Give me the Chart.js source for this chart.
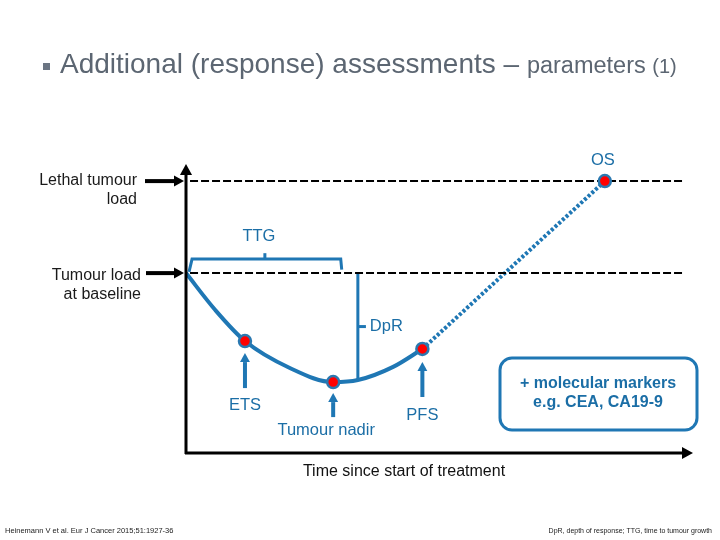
<!DOCTYPE html>
<html>
<head>
<meta charset="utf-8">
<script src="https://cdn.jsdelivr.net/npm/chart.js@4"></script>
<style>
  html, body { margin: 0; padding: 0; background: #fff; }
  #wrap { width: 720px; height: 540px; }
</style>
</head>
<body>
<div id="wrap"><canvas id="chart" width="720" height="540"></canvas></div>
<script>
// Tumour load curve (time since start, tumour load in % of axis height)
const curveTime = [0, 5.8, 11.7, 20.6, 29.2, 34.1, 41.1, 46.9];
const curveLoad = [61.4, 48.8, 38.2, 29, 24.2, 24.9, 29.4, 35.5];

// dotted progression part PFS -> OS
const progTime = [46.9, 83.1];
const progLoad = [35.5, 92.8];

// reference levels
const lethalLoad = 92.8;
const baselineLoad = 61.4;
const levelStart = 0.8;
const levelEnd = 98.6;

// markers
const markerNames = ['ETS', 'Tumour nadir', 'PFS', 'OS'];
const markerTime = [11.7, 29.2, 46.9, 83.1];
const markerLoad = [38.2, 24.2, 35.5, 92.8];

// TTG bracket and DpR line
const ttgStart = 0.6;
const ttgEnd = 30.7;
const ttgLevel = 66.2;
const dprTime = 34.1;

const BLUE = '#1f77b4';
const TEXT_BLUE = '#1b6ea6';
const FONT = '"Liberation Sans", Arial, sans-serif';

const pts = (xs, ys) => xs.map((x, i) => ({ x: x, y: ys[i] }));

// Draws arrows, texts, box and axes around the plot
const diagramPlugin = {
    id: 'diagram',
    afterDatasetsDraw(chart) {
        const ctx = chart.ctx;
        const xs = chart.scales.x, ys = chart.scales.y;
        const area = chart.chartArea;

        function arrow(x1, y1, x2, y2, color, width, head) {
            const ang = Math.atan2(y2 - y1, x2 - x1);
            const c = Math.cos(ang), s = Math.sin(ang);
            ctx.save();
            ctx.strokeStyle = color;
            ctx.fillStyle = color;
            ctx.lineWidth = width;
            ctx.beginPath();
            ctx.moveTo(x1, y1);
            ctx.lineTo(x2 - c * head, y2 - s * head);
            ctx.stroke();
            ctx.beginPath();
            ctx.moveTo(x2, y2);
            ctx.lineTo(x2 - c * head - s * head * 0.55, y2 - s * head + c * head * 0.55);
            ctx.lineTo(x2 - c * head + s * head * 0.55, y2 - s * head - c * head * 0.55);
            ctx.closePath();
            ctx.fill();
            ctx.restore();
        }

        function text(str, x, y, font, color, align) {
            ctx.save();
            ctx.font = font;
            ctx.fillStyle = color;
            ctx.textAlign = align || 'center';
            ctx.textBaseline = 'middle';
            ctx.fillText(str, x, y);
            ctx.restore();
        }

        // axes
        arrow(area.left, area.bottom + 1, area.left, area.top + 4, '#000', 3, 11);
        arrow(area.left - 1, area.bottom, area.right + 3, area.bottom, '#000', 3, 11);

        // level arrows + labels
        const yLethal = ys.getPixelForValue(lethalLoad);
        const yBase = ys.getPixelForValue(baselineLoad);
        arrow(area.left - 41, yLethal, area.left - 2, yLethal, '#000', 4, 10);
        arrow(area.left - 40, yBase, area.left - 2, yBase, '#000', 4, 10);
        const lf = '16px ' + FONT;
        text('Lethal tumour', 137, yLethal - 1, lf, '#1a1a1a', 'right');
        text('load', 137, yLethal + 18, lf, '#1a1a1a', 'right');
        text('Tumour load', 141, yBase + 2, lf, '#1a1a1a', 'right');
        text('at baseline', 141, yBase + 21, lf, '#1a1a1a', 'right');

        // arrows under markers
        const bf = '16.5px ' + FONT;
        const under = [
            { i: 0, tip: 12, tail: 47, label: 64, dx: 0 },
            { i: 1, tip: 11, tail: 35, label: 48, dx: -7 },
            { i: 2, tip: 13, tail: 48, label: 66, dx: 0 }
        ];
        under.forEach(u => {
            const px = xs.getPixelForValue(markerTime[u.i]);
            const py = ys.getPixelForValue(markerLoad[u.i]);
            arrow(px, py + u.tail, px, py + u.tip, BLUE, 4, 9);
            text(markerNames[u.i], px + u.dx, py + u.label, bf, TEXT_BLUE);
        });
        const osX = xs.getPixelForValue(markerTime[3]);
        const osY = ys.getPixelForValue(markerLoad[3]);
        text(markerNames[3], osX - 2, osY - 21, bf, TEXT_BLUE);

        // TTG label + DpR label
        const ttgY = ys.getPixelForValue(ttgLevel);
        text('TTG', xs.getPixelForValue((ttgStart + ttgEnd) / 2) - 6, ttgY - 23, bf, TEXT_BLUE);
        const dprX = xs.getPixelForValue(dprTime);
        const dprY = (yBase + ys.getPixelForValue(curveLoad[5])) / 2;
        text('DpR', dprX + 12, dprY, bf, TEXT_BLUE, 'left');

        // molecular markers box
        ctx.save();
        ctx.strokeStyle = BLUE;
        ctx.lineWidth = 3;
        ctx.beginPath();
        ctx.roundRect(500, 358, 197, 72, 12);
        ctx.stroke();
        ctx.restore();
        const mf = 'bold 16px ' + FONT;
        text('+ molecular markers', 598, 384, mf, TEXT_BLUE);
        text('e.g. CEA, CA19-9', 598, 403, mf, TEXT_BLUE);

        // x axis title
        text('Time since start of treatment', 404, 472, '16px ' + FONT, '#111');

        // heading
        ctx.save();
        ctx.fillStyle = '#6b7583';
        ctx.fillRect(43, 63, 7, 7);
        ctx.textBaseline = 'alphabetic';
        ctx.fillStyle = '#5c6672';
        ctx.font = '28px ' + FONT;
        const head = 'Additional (response) assessments \u2013 ';
        ctx.fillText(head, 60, 73);
        let w = ctx.measureText(head).width;
        ctx.font = '23.5px ' + FONT;
        ctx.fillText('parameters ', 60 + w, 73);
        w += ctx.measureText('parameters ').width;
        ctx.font = '20px ' + FONT;
        ctx.fillText('(1)', 60 + w, 73);
        ctx.restore();

        // footnotes
        text('Heinemann V et al. Eur J Cancer 2015;51:1927-36', 5, 531, '7.5px ' + FONT, '#222', 'left');
        text('DpR, depth of response; TTG, time to tumour growth', 712, 531, '7px ' + FONT, '#222', 'right');
    }
};

new Chart(document.getElementById('chart'), {
    type: 'line',
    data: {
        datasets: [{
            // first dataset is drawn on top
            label: 'Assessments',
            data: pts(markerTime, markerLoad),
            showLine: false,
            pointRadius: 6,
            pointBorderWidth: 2.5,
            pointBorderColor: '#2a78b0',
            pointBackgroundColor: '#ff0000'
        }, {
            label: 'Lethal tumour load',
            data: pts([levelStart, levelEnd], [lethalLoad, lethalLoad]),
            borderColor: '#000',
            borderWidth: 2,
            borderDash: [8, 3],
            pointRadius: 0
        }, {
            label: 'Tumour load at baseline',
            data: pts([levelStart, levelEnd], [baselineLoad, baselineLoad]),
            borderColor: '#000',
            borderWidth: 2,
            borderDash: [8, 3],
            pointRadius: 0
        }, {
            label: 'Progression',
            data: pts(progTime, progLoad),
            borderColor: BLUE,
            borderWidth: 4,
            borderDash: [3, 2],
            pointRadius: 0
        }, {
            label: 'Tumour load',
            data: pts(curveTime, curveLoad),
            borderColor: BLUE,
            borderWidth: 4,
            tension: 0.4,
            cubicInterpolationMode: 'monotone',
            pointRadius: 0
        }, {
            label: 'TTG',
            data: pts([ttgStart, ttgStart + 0.6, ttgEnd, ttgEnd + 0.2], [baselineLoad + 0.4, ttgLevel, ttgLevel, baselineLoad + 1.2]),
            borderColor: BLUE,
            borderWidth: 3,
            pointRadius: 0
        }, {
            label: 'TTG tick',
            data: pts([(ttgStart + ttgEnd) / 2, (ttgStart + ttgEnd) / 2], [ttgLevel, ttgLevel + 2]),
            borderColor: BLUE,
            borderWidth: 3,
            pointRadius: 0
        }, {
            label: 'DpR',
            data: pts([dprTime, dprTime], [baselineLoad, curveLoad[5]]),
            borderColor: BLUE,
            borderWidth: 3,
            pointRadius: 0
        }, {
            label: 'DpR tick',
            data: pts([dprTime, dprTime + 1.6], [(baselineLoad + curveLoad[5]) / 2, (baselineLoad + curveLoad[5]) / 2]),
            borderColor: BLUE,
            borderWidth: 3,
            pointRadius: 0
        }]
    },
    options: {
        responsive: false,
        animation: false,
        layout: { padding: { left: 186, right: 30, top: 160, bottom: 87 } },
        plugins: { legend: { display: false }, tooltip: { enabled: false } },
        scales: {
            x: { type: 'linear', min: 0, max: 100, display: false },
            y: { type: 'linear', min: 0, max: 100, display: false }
        }
    },
    plugins: [diagramPlugin]
});
</script>
</body>
</html>
